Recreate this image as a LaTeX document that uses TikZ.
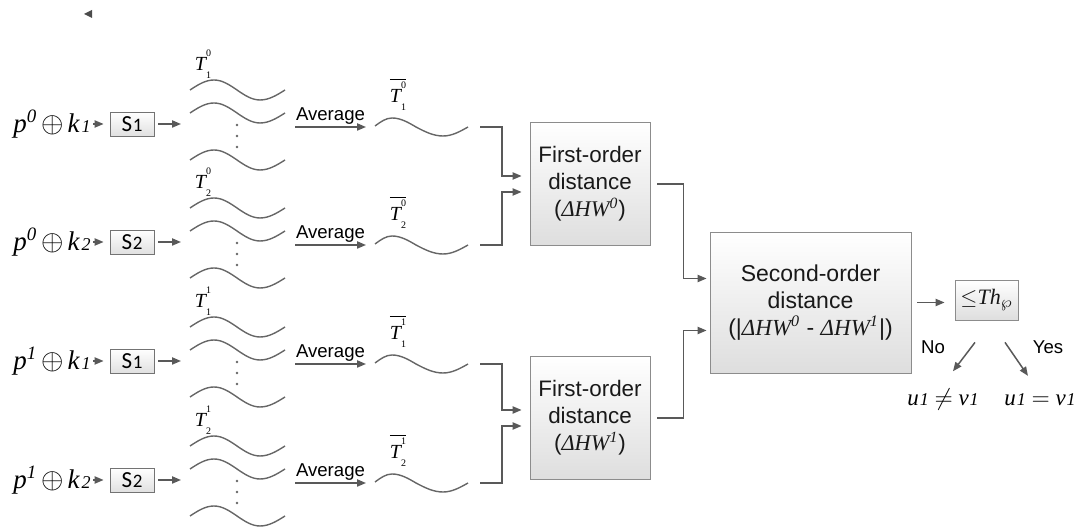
\documentclass[tikz,border=0pt]{standalone}
\usepackage{fontspec}
\setmainfont{Liberation Sans}
\newfontfamily\tms{Liberation Serif}
\newfontfamily\boxfont{Carlito}
\usetikzlibrary{positioning, arrows.meta, calc}

% trace symbol T with stacked indices, and its average
\newcommand{\trc}[2]{{\tms\itshape T}\rlap{\raisebox{1.35ex}{\tiny\tms #2}}\raisebox{-0.7ex}{\tiny\tms #1}}
\newcommand{\avgtrc}[2]{$\overline{\hbox{\trc{#1}{#2}}}$}
% masked input p^a (+) k_b
\newcommand{\inp}[2]{{\itshape p\textsuperscript{#1}}\kern2pt$\oplus$\kern2pt{\itshape k\kern1pt{\small #2}}}
\newcommand{\dhw}[1]{{\tms\itshape ΔHW\textsuperscript{#1}}}

\begin{document}
\begin{tikzpicture}[
    x=0.5pt, y=-0.5pt,
    line/.style={draw=black!65, line width=0.75pt},
    arrow/.style={line, -{Triangle[length=4.5pt,width=3.6pt]}},
    blk/.style={draw=black!45, top color=white, bottom color=black!13, align=center,
        inner sep=0pt, text=black!90, font=\fontsize{11.2}{13.5}\selectfont},
    sblk/.style={draw=black!55, top color=white, bottom color=black!12, inner sep=0pt,
        minimum width=22pt, minimum height=12pt, font=\boxfont\fontsize{11.5}{12}\selectfont},
    inlbl/.style={inner sep=0pt, font=\tms\fontsize{13.5}{15}\selectfont},
    tlbl/.style={inner sep=0pt, font=\fontsize{10}{11}\selectfont},
    lbl/.style={inner sep=1pt, font=\fontsize{9.3}{11}\selectfont},
    res/.style={font=\tms\fontsize{11.5}{13}\selectfont},
    wavy/.style={draw=black!60, line width=0.7pt},
    wave/.pic={\draw[wavy] (0,0) sin (24,-10) cos (47,0) sin (70,10) cos (95,0);},
    avgwave/.pic={\draw[wavy] (0,0) sin (17,-8) cos (41,1) sin (68,10) cos (93,1);}
]
\useasboundingbox (0,0) rectangle (1088,528);

% small marker top left
\fill[black!70] (84,14) -- (92,10) -- (92,18) -- cycle;

% one row per plaintext/key pair
\foreach \i/\ry/\pp/\kk in {1/124/0/1, 2/242/0/2, 3/361/1/1, 4/480/1/2} {
    \node[inlbl, anchor=east] (in\i) at (91,\ry) {\inp{\pp}{\kk}};
    \node[sblk] (s\i) at (132,\ry) {S\kern0.3pt{\fontsize{9.5}{10}\selectfont\kk}};
    \coordinate (w\i) at (181,\ry);
    \draw[arrow, shorten <=1pt, shorten >=3pt] (s\i.west -| in\i.east) -- (s\i.west);
    \draw[arrow, shorten <=2pt] (s\i) -- (w\i);
    \node[tlbl] (t\i) at (203,\ry-60) {\trc{\kk}{\pp}};
    \foreach \dy in {-34,-11,36}
        \pic at (190,\ry+\dy) {wave};
    \foreach \dy in {1,12,23}
        \fill[black!60] (237,\ry+\dy) circle (0.7pt);
    \coordinate (a\i) at (295,\ry+3);
    \coordinate (b\i) at (366,\ry+3);
    \draw[arrow] (a\i) -- node[above, lbl] {Average} (b\i);
    \node[tlbl] (m\i) at (398,\ry-30) {\avgtrc{\kk}{\pp}};
    \pic at (375,\ry+2) {avgwave};
    \coordinate (e\i) at (480,\ry+3);
}

% distance blocks
\node[blk, minimum width=60pt, minimum height=61.5pt] (fo1) at (590,184)
    {First-order\\distance\\(\dhw{0})};
\node[blk, minimum width=60pt, minimum height=61.5pt] (fo2) at (590,418)
    {First-order\\distance\\(\dhw{1})};
\node[blk, minimum width=100.5pt, minimum height=70.5pt, font=\fontsize{11.5}{13.5}\selectfont] (so) at (810.5,302.5)
    {Second-order\\distance\\(|\dhw{0} - \dhw{1}|)};
\node[blk, minimum width=31.5pt, minimum height=20pt, font=\tms\fontsize{11}{13}\selectfont] (thr) at (986.5,300)
    {$\leq${\itshape Th}$_{\wp}$};

\draw[arrow, shorten >=4pt] (e1) -- ++(22,0) |- ([yshift=4pt]fo1.west);
\draw[arrow, shorten >=4pt] (e2) -- ++(22,0) |- ([yshift=-4pt]fo1.west);
\draw[arrow, shorten >=4pt] (e3) -- ++(22,0) |- ([yshift=4pt]fo2.west);
\draw[arrow, shorten >=4pt] (e4) -- ++(22,0) |- ([yshift=-4pt]fo2.west);

\draw[arrow, shorten <=3.5pt, shorten >=1.5pt] (fo1.east) -- ++(33,0) |- ([yshift=12pt]so.west);
\draw[arrow, shorten <=3.5pt, shorten >=1.5pt] (fo2.east) -- ++(33,0) |- ([yshift=-14pt]so.west);
\draw[arrow, shorten <=3pt, shorten >=5pt] (so) -- (so -| thr.west);

% decision
\node[res] (neq) at (943,400) {{\itshape u\kern0.4pt{\small 1}} $\neq$ {\itshape v\kern0.4pt{\small 1}}};
\node[res] (eq) at (1040,400) {{\itshape u\kern0.4pt{\small 1}} $=$ {\itshape v\kern0.4pt{\small 1}}};
\draw[arrow] ([shift={(-11.5,22)}]thr.south) -- ([shift={(10,-11)}]neq.north);
\draw[arrow] ([shift={(18.5,22)}]thr.south) -- ([shift={(-12,-11)}]eq.north);
\node[lbl] (no) at (933,347) {No};
\node[lbl] (yes) at (1048,347) {Yes};
\end{tikzpicture}
\end{document}
